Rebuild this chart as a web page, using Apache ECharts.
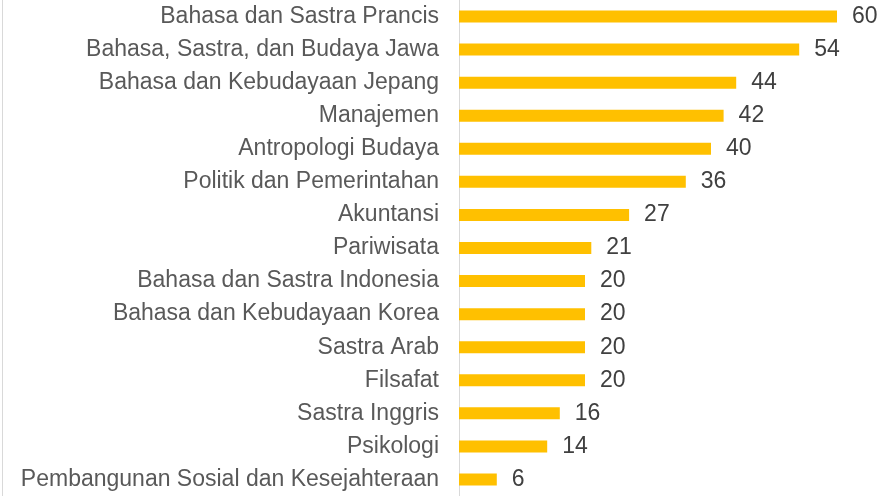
<!DOCTYPE html>
<html>
<head>
<meta charset="utf-8">
<script src="https://cdn.jsdelivr.net/npm/echarts@6/dist/echarts.min.js"></script>
<style>
  html, body { margin: 0; padding: 0; background: #fff; }
  #chart { width: 889px; height: 496px; }
</style>
</head>
<body>
<div id="chart"></div>
<script>
// program studi, dari atas ke bawah
const categories = [
  'Bahasa dan Sastra Prancis',
  'Bahasa, Sastra, dan Budaya Jawa',
  'Bahasa dan Kebudayaan Jepang',
  'Manajemen',
  'Antropologi Budaya',
  'Politik dan Pemerintahan',
  'Akuntansi',
  'Pariwisata',
  'Bahasa dan Sastra Indonesia',
  'Bahasa dan Kebudayaan Korea',
  'Sastra Arab',
  'Filsafat',
  'Sastra Inggris',
  'Psikologi',
  'Pembangunan Sosial dan Kesejahteraan'
]
const values = [60, 54, 44, 42, 40, 36, 27, 21, 20, 20, 20, 20, 16, 14, 6]

const chart = echarts.init(document.getElementById('chart'))

const option = {
  animation: false,
  textStyle: { fontFamily: 'Liberation Sans, Arial, sans-serif' },
  grid: {
    left: 459,
    right: 52,
    top: 0,
    height: 500
  },
  xAxis: {
    type: 'value',
    min: 0,
    max: 60,
    show: false
  },
  yAxis: {
    type: 'category',
    inverse: true,
    data: categories,
    axisLine: { show: true, lineStyle: { color: '#d9d9d9', width: 1 } },
    axisTick: { show: false },
    axisLabel: {
      color: '#595959',
      fontSize: 23,
      margin: 20
    }
  },
  graphic: [
    {
      type: 'line',
      shape: { x1: 2.5, y1: 0, x2: 2.5, y2: 496 },
      style: { stroke: '#d9d9d9', lineWidth: 1 }
    }
  ],
  series: [
    {
      type: 'bar',
      data: values,
      barWidth: 12,
      itemStyle: { color: '#ffc000' },
      label: {
        show: true,
        position: 'right',
        distance: 15,
        color: '#404040',
        fontSize: 23
      }
    }
  ]
}

chart.setOption(option)
</script>
</body>
</html>
